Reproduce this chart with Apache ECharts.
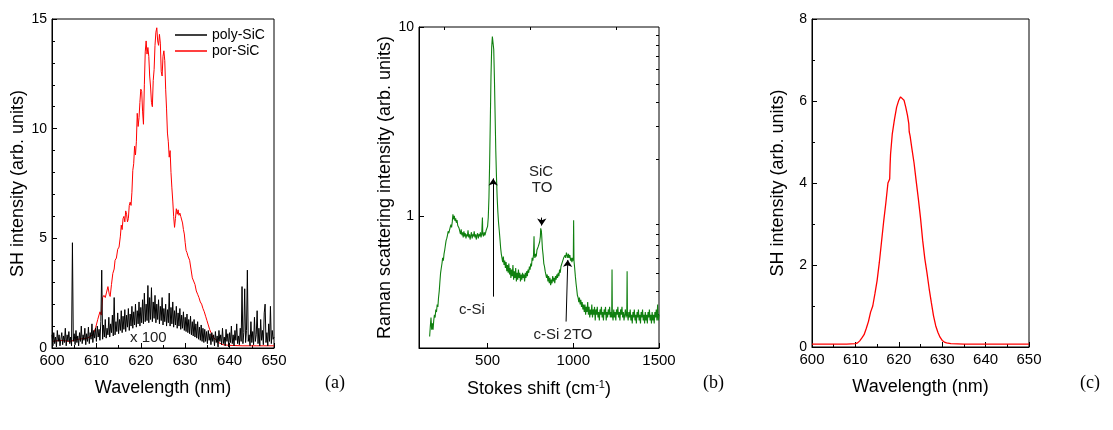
<!DOCTYPE html>
<html>
<head>
<meta charset="utf-8">
<script src="https://cdn.jsdelivr.net/npm/echarts@6/dist/echarts.min.js"></script>
<style>html,body{margin:0;padding:0;background:#fff}#c{width:1113px;height:430px}</style>
</head>
<body>
<div id="c"></div>
<script>
// ---------- Panel (a) ----------
const wlTicks = [600, 610, 620, 630, 640, 650];
const polyStart = 600, polyStep = 0.2;
const polySiC = [
0.6,0.1,0.7,0.2,0.5,0.05,0.8,0.3,0.6,0.1,
0.4,0.7,0.15,0.55,0.25,0.9,0.1,0.6,0.3,0.75,
0.2,0.5,0.1,4.8,0.3,0.65,0.15,0.8,0.25,0.55,
0.1,0.7,0.3,1.0,0.2,0.6,0.35,0.9,0.15,0.65,
0.3,0.95,0.2,0.7,0.4,1.1,0.25,0.8,0.45,0.9,
0.3,1.0,0.5,0.85,0.35,1.2,3.55,0.4,1.05,0.5,
1.3,0.45,0.9,0.6,1.4,0.5,1.1,0.7,1.5,0.55,
2.3,0.6,1.2,0.75,1.6,0.65,1.3,0.8,1.7,0.7,
1.45,0.85,1.75,0.75,1.5,0.95,1.8,0.8,1.55,1.0,
1.9,0.9,1.65,1.05,2.0,0.95,1.7,1.1,2.1,1.0,
1.85,1.15,2.2,1.1,2.5,1.2,2.0,1.25,2.85,1.15,
2.3,1.3,2.75,1.2,2.1,1.35,2.4,1.15,2.0,1.3,
2.2,1.1,1.9,1.25,2.3,1.05,1.8,1.2,2.0,1.0,
1.75,1.15,2.5,1.0,1.85,1.1,2.1,0.95,1.7,1.05,
1.9,0.9,1.6,1.0,1.8,0.85,1.5,0.9,1.65,0.8,
1.4,0.75,1.55,0.7,1.3,0.65,1.45,0.6,1.2,0.55,
1.3,0.5,1.1,0.45,1.2,0.4,0.95,0.35,1.05,0.3,
0.9,0.25,0.85,0.3,0.75,0.2,0.8,0.35,0.65,0.15,
0.7,0.3,0.6,0.1,0.75,0.25,0.55,0.05,0.8,0.3,
0.6,0.15,0.9,0.2,0.5,0.1,0.85,0.3,0.65,0.05,
0.7,0.25,1.0,0.2,0.6,0.1,0.8,0.35,1.1,0.2,
0.55,0.15,0.9,0.3,2.8,0.2,0.7,2.7,0.25,0.8,
3.55,0.3,0.6,0.1,1.2,0.25,0.75,0.15,1.4,0.3,
0.6,1.7,0.2,0.9,0.1,1.3,0.35,0.8,0.15,1.6,
2.0,0.25,0.7,0.1,1.1,0.3,1.9,0.2,0.8,0.4,
0.5
];
const porSiC = [
[600,0.3],[602,0.35],[604,0.3],[606,0.4],[608,0.45],[608.8,0.55],[609.3,0.65],[609.8,0.9],[610.3,1.3],[610.8,1.65],[611.1,1.5],[611.4,2.3],[611.7,2.4],[612.0,2.3],[612.3,2.55],[612.6,2.8],[612.9,2.45],[613.1,2.35],[613.4,2.9],[613.7,3.4],[614.0,3.6],[614.2,4.0],[614.5,4.1],[614.8,4.5],[615.1,4.6],[615.4,5.1],[615.6,5.6],[615.8,5.4],[616.0,5.9],[616.2,6.0],[616.4,5.75],[616.6,6.25],[616.8,6.1],[617.0,5.75],[617.2,5.9],[617.4,6.5],[617.6,6.65],[617.8,6.5],[618.0,7.1],[618.2,8.1],[618.4,8.4],[618.6,9.2],[618.8,8.8],[619.0,9.4],[619.2,10.7],[619.4,10.1],[619.6,10.5],[619.8,11.2],[620.0,11.8],[620.2,11.7],[620.4,10.8],[620.6,10.2],[620.8,12.0],[621.0,13.5],[621.2,14.0],[621.4,13.4],[621.6,13.7],[621.8,13.3],[622.0,12.4],[622.2,11.9],[622.4,11.2],[622.6,11.0],[622.8,12.2],[623.0,12.7],[623.2,13.8],[623.4,14.4],[623.6,14.6],[623.8,14.0],[624.0,13.8],[624.2,14.3],[624.4,13.9],[624.6,12.6],[624.8,12.4],[625.0,13.3],[625.2,13.55],[625.4,13.1],[625.6,11.8],[625.8,10.9],[626.0,9.8],[626.2,9.4],[626.4,8.7],[626.6,9.0],[626.8,8.0],[627.0,7.3],[627.2,6.7],[627.4,6.0],[627.6,5.5],[627.8,5.9],[628.0,6.35],[628.2,6.1],[628.4,6.3],[628.6,6.05],[628.8,6.15],[629.0,6.0],[629.2,6.05],[629.4,5.7],[629.6,5.4],[629.8,5.2],[630.0,4.8],[630.2,4.45],[630.4,4.35],[630.6,4.2],[630.8,4.15],[631.0,4.0],[631.3,3.6],[631.6,3.2],[631.9,3.15],[632.2,2.9],[632.5,2.6],[632.8,2.45],[633.1,2.3],[633.4,2.1],[633.7,2.0],[634.0,1.8],[634.3,1.65],[634.6,1.45],[634.9,1.25],[635.2,1.05],[635.5,0.85],[635.8,0.7],[636.2,0.5],[636.8,0.4],[637.5,0.25],[638.5,0.15],[640,0.12],[643,0.1],[646,0.1],[650,0.1]
];
// ---------- Panel (b) ----------
const ramanMajorX = [500, 1000, 1500];
const ramanMinorX = [250, 750, 1250];
const ramanMajorY = [1, 10];
const ramanMinorY = [0.3,0.4,0.5,0.6,0.7,0.8,0.9,2,3,4,5,6,7,8,9];
const raman = [
[162,0.23],[166,0.26],[170,0.29],[174,0.25],[178,0.27],[182,0.25],[186,0.28],[190,0.3],[194,0.29],[198,0.32],[202,0.31],[206,0.34],[210,0.33],[214,0.37],[218,0.4],[222,0.45],[226,0.5],[230,0.53],[234,0.56],[238,0.6],[242,0.58],[246,0.63],[250,0.66],[254,0.7],[258,0.74],[262,0.76],[266,0.79],[270,0.83],[274,0.81],[278,0.84],[282,0.86],[286,0.9],[290,0.87],[294,0.93],[298,1.02],[302,0.96],[306,1.0],[310,0.94],[314,0.97],[318,0.92],[322,0.95],[326,0.89],[330,0.9],[334,0.86],
[338,0.84],[342,0.8],[346,0.85],[350,0.79],[354,0.82],[358,0.77],[362,0.83],[366,0.78],[370,0.81],[374,0.76],[378,0.8],[382,0.78],[386,0.84],[390,0.77],[394,0.8],[398,0.75],[402,0.79],[406,0.82],[410,0.76],[414,0.8],[418,0.78],[422,0.83],[426,0.77],[430,0.8],[434,0.75],[438,0.79],[442,0.81],[446,0.76],[450,0.8],[454,0.78],[458,0.82],[462,0.77],[466,0.81],[470,0.98],[472,0.8],[476,0.78],[480,0.82],[484,0.79],[488,0.81],[492,0.84],[496,0.85],[500,0.88],[504,0.98],[508,1.25],[512,1.9],[516,3.2],[520,5.5],[524,7.8],[528,8.9],[532,8.8],[536,7.6],[540,5.3],[544,3.4],[548,2.2],[552,1.6],[556,1.25],[560,1.05],[564,0.92],[568,0.84],[572,0.76],[576,0.68],[580,0.63],[584,0.6],
[588,0.57],[592,0.61],[596,0.55],[600,0.58],[604,0.53],[608,0.57],[612,0.51],[616,0.55],[620,0.5],[624,0.56],[628,0.49],[632,0.53],[636,0.47],[640,0.52],[644,0.48],[648,0.55],[652,0.46],[656,0.51],[660,0.47],[664,0.53],[668,0.45],[672,0.5],[676,0.46],[680,0.52],[684,0.47],[688,0.5],[692,0.45],[696,0.49],[700,0.46],[704,0.5],[708,0.47],[712,0.49],[716,0.45],[720,0.5],[724,0.47],[728,0.51],[732,0.48],[736,0.52],[740,0.5],[744,0.54],[748,0.52],[752,0.56],[756,0.54],[760,0.6],[764,0.58],[768,0.62],[771,0.78],[773,0.63],[776,0.6],[780,0.63],[784,0.61],[788,0.66],[792,0.65],[796,0.69],[800,0.68],[804,0.73],[808,0.78],[810,0.86],[812,0.88],[814,0.83],[816,0.78],[818,0.72],[820,0.67],[824,0.62],[828,0.56],[832,0.54],[836,0.51],[840,0.5],[844,0.47],[848,0.49],[852,0.45],[856,0.48],[860,0.44],[864,0.47],[868,0.43],[872,0.46],[876,0.44],[880,0.48],[884,0.45],[888,0.47],[892,0.44],[896,0.48],[900,0.46],[904,0.49],[908,0.47],[912,0.5],[916,0.48],[920,0.52],[924,0.5],[928,0.54],[932,0.53],[936,0.57],[940,0.56],[944,0.6],[948,0.59],[952,0.62],[956,0.6],[960,0.64],[964,0.62],[968,0.6],[972,0.63],[976,0.6],[980,0.62],[984,0.58],[988,0.6],[992,0.57],[996,0.6],[1000,0.58],[1002,0.95],[1004,0.58],[1008,0.53],[1012,0.48],[1016,0.44],[1020,0.41],[1024,0.38],[1028,0.37],[1032,0.35],[1036,0.37],[1040,0.34],
[1044,0.36],[1048,0.33],[1052,0.35],[1056,0.32],[1060,0.34],[1064,0.31],[1068,0.34],[1072,0.3],[1076,0.33],[1080,0.31],[1084,0.35],[1088,0.3],[1092,0.33],[1096,0.29],[1100,0.32],[1104,0.3],[1108,0.34],[1112,0.29],[1116,0.32],[1120,0.3],[1124,0.33],[1128,0.28],[1132,0.32],[1136,0.3],[1140,0.33],[1144,0.29],[1148,0.31],[1152,0.28],[1156,0.32],[1160,0.3],[1164,0.33],[1168,0.29],[1172,0.31],[1176,0.28],[1180,0.32],[1184,0.3],[1188,0.33],[1192,0.28],[1196,0.31],[1200,0.29],[1204,0.32],[1208,0.3],[1212,0.33],[1216,0.29],[1220,0.31],[1224,0.29],[1226,0.52],[1228,0.3],[1232,0.28],[1236,0.32],[1240,0.29],[1244,0.31],[1248,0.28],[1252,0.32],[1256,0.3],[1260,0.33],[1264,0.29],[1268,0.31],[1272,0.28],[1276,0.32],[1280,0.3],[1284,0.33],[1288,0.29],[1292,0.31],[1296,0.28],[1300,0.3],[1304,0.32],[1308,0.29],[1312,0.31],[1314,0.51],[1316,0.3],[1320,0.28],[1324,0.31],[1328,0.29],[1332,0.32],[1336,0.28],[1340,0.3],[1344,0.27],[1348,0.31],[1352,0.29],[1356,0.32],[1360,0.28],[1364,0.3],[1368,0.27],[1372,0.31],[1376,0.29],[1380,0.32],[1384,0.28],[1388,0.3],[1392,0.27],[1396,0.31],[1400,0.29],[1404,0.32],[1408,0.28],[1412,0.3],[1416,0.27],[1420,0.31],[1424,0.28],[1428,0.3],[1432,0.27],[1436,0.31],[1440,0.29],[1444,0.32],[1448,0.28],[1452,0.3],[1456,0.27],[1460,0.31],[1464,0.28],[1468,0.3],[1472,0.27],[1476,0.31],[1480,0.29],[1484,0.32],[1488,0.28],[1492,0.34],[1496,0.28],[1500,0.3]
];
const ramanArrows = [
  {from:[533,0.374], to:[533,1.58]},
  {from:[816,0.98], to:[816,0.89]},
  {from:[958,0.276], to:[968,0.585]}
];
const ramanNotes = [
  {text:'c-Si', at:[409,0.318]},
  {text:'SiC', at:[812,1.71]},
  {text:'TO', at:[818,1.41]},
  {text:'c-Si 2TO', at:[940,0.235]}
];
// ---------- Panel (c) ----------
const shgC = [
[600,0.07],[605,0.07],[608,0.07],[610,0.08],[610.5,0.1],[611,0.15],[611.5,0.22],[612,0.3],[612.5,0.45],[613,0.62],[613.5,0.85],[614,1.0],[614.5,1.3],[615,1.62],[615.5,2.05],[616,2.55],[616.5,3.05],[617,3.5],[617.5,4.0],[617.9,4.1],[618,4.45],[618.1,4.7],[618.5,5.2],[619,5.55],[619.5,5.85],[620,6.02],[620.4,6.1],[620.8,6.1],[621.2,6.02],[621.6,5.85],[622,5.65],[622.3,5.45],[622.4,5.25],[622.6,5.15],[623,4.85],[623.5,4.5],[624,4.05],[624.5,3.62],[625,3.15],[625.5,2.6],[626,2.15],[626.5,1.8],[627,1.42],[627.5,1.08],[628,0.76],[628.5,0.52],[629,0.36],[629.5,0.24],[630,0.16],[630.5,0.12],[631,0.1],[632,0.08],[635,0.07],[640,0.07],[645,0.07],[650,0.07]
];

const FONT = 'Liberation Sans, Arial, sans-serif';
const AX = '#000';
const plain = v => String(v);
const polyData = polySiC.map((v, i) => [polyStart + i * polyStep, v]);

function baseAxis(extra) {
  return Object.assign({
    axisLine: {show: true, lineStyle: {color: AX, width: 1}},
    axisTick: {show: true, inside: true, length: 5, lineStyle: {color: AX}},
    minorTick: {show: false},
    splitLine: {show: false},
    axisLabel: {color: '#000', fontFamily: FONT, fontSize: 14, margin: 5, formatter: plain},
    nameTextStyle: {color: '#000', fontFamily: FONT, fontSize: 18},
    nameLocation: 'middle'
  }, extra);
}

const chart = echarts.init(document.getElementById('c'), null, {renderer: 'canvas'});
chart.setOption({
  animation: false,
  backgroundColor: '#fff',
  grid: [
    {left: 52, right: 839, top: 19, bottom: 82, show: true, borderColor: AX, borderWidth: 1},
    {left: 419, right: 454, top: 27, bottom: 82, show: true, borderColor: AX, borderWidth: 1},
    {left: 812, right: 84, top: 19, bottom: 83, show: true, borderColor: AX, borderWidth: 1}
  ],
  xAxis: [
    baseAxis({gridIndex: 0, type: 'value', min: 600, max: 650, interval: 10,
      minorTick: {show: true, splitNumber: 2, length: 3, lineStyle: {color: AX}},
      axisLabel: {color: '#000', fontFamily: FONT, fontSize: 15, margin: 5, formatter: plain},
      name: 'Wavelength (nm)', nameGap: 31}),
    baseAxis({gridIndex: 1, type: 'value', min: 100, max: 1500,
      axisLabel: {color: '#000', fontFamily: FONT, fontSize: 15, margin: 5, customValues: ramanMajorX, formatter: plain},
      axisTick: {show: true, inside: true, length: 5, lineStyle: {color: AX}, customValues: ramanMajorX},
      name: 'Stokes shift (cm{sup|-1})', nameGap: 31,
      nameTextStyle: {color: '#000', fontFamily: FONT, fontSize: 18,
        rich: {sup: {fontSize: 11, verticalAlign: 'top', padding: [0, 0, 10, 0], color: '#000', fontFamily: FONT}}}}),
    baseAxis({gridIndex: 1, type: 'value', min: 100, max: 1500,
      axisLine: {show: false},
      axisLabel: {show: false},
      axisTick: {show: true, inside: true, length: 3, lineStyle: {color: AX}, customValues: ramanMinorX}}),
    baseAxis({gridIndex: 2, type: 'value', min: 600, max: 650, interval: 10,
      minorTick: {show: true, splitNumber: 2, length: 3, lineStyle: {color: AX}},
      axisLabel: {color: '#000', fontFamily: FONT, fontSize: 15, margin: 5, formatter: plain},
      name: 'Wavelength (nm)', nameGap: 31})
  ],
  yAxis: [
    baseAxis({gridIndex: 0, type: 'value', min: 0, max: 15, interval: 5,
      minorTick: {show: true, splitNumber: 5, length: 3, lineStyle: {color: AX}},
      name: 'SH intensity (arb. units)', nameGap: 25}),
    baseAxis({gridIndex: 1, type: 'log', logBase: 10, min: 0.2, max: 10,
      axisLabel: {color: '#000', fontFamily: FONT, fontSize: 14, margin: 5, customValues: ramanMajorY, formatter: plain},
      axisTick: {show: true, inside: true, length: 5, lineStyle: {color: AX}, customValues: ramanMajorY},
      name: 'Raman scattering intensity (arb. units)', nameGap: 19}),
    baseAxis({gridIndex: 1, type: 'log', logBase: 10, min: 0.2, max: 10,
      axisLine: {show: false},
      axisLabel: {show: false},
      axisTick: {show: true, inside: true, length: 3, lineStyle: {color: AX}, customValues: ramanMinorY}}),
    baseAxis({gridIndex: 2, type: 'value', min: 0, max: 8, interval: 2,
      minorTick: {show: true, splitNumber: 2, length: 3, lineStyle: {color: AX}},
      name: 'SH intensity (arb. units)', nameGap: 25})
  ],
  legend: {
    orient: 'vertical', left: 170, top: 23, itemGap: 2, itemWidth: 32, itemHeight: 1.5,
    icon: 'rect', data: ['poly-SiC', 'por-SiC'],
    textStyle: {color: '#000', fontFamily: FONT, fontSize: 14}
  },
  series: [
    {name: 'por-SiC', type: 'line', xAxisIndex: 0, yAxisIndex: 0, data: porSiC,
      showSymbol: false, symbol: 'none', lineStyle: {color: '#ff0000', width: 1}, itemStyle: {color: '#ff0000'}},
    {name: 'poly-SiC', type: 'line', xAxisIndex: 0, yAxisIndex: 0, data: polyData,
      showSymbol: false, symbol: 'none', lineStyle: {color: '#000', width: 1}, itemStyle: {color: '#000'},
      markPoint: {silent: true, symbol: 'circle', symbolSize: 0,
        data: [{coord: [621.7, 0.45], value: 'x 100'}],
        label: {show: true, formatter: 'x 100', color: '#222', fontFamily: FONT, fontSize: 15}}},
    {name: 'Raman', type: 'line', xAxisIndex: 1, yAxisIndex: 1, data: raman,
      showSymbol: false, symbol: 'none', lineStyle: {color: '#108010', width: 1.1}, itemStyle: {color: '#108010'},
      markLine: {silent: true, symbol: ['none', 'arrow'], symbolSize: 8,
        lineStyle: {color: '#000', width: 1, type: 'solid'},
        itemStyle: {color: '#000'},
        label: {show: false},
        data: ramanArrows.map(a => [{coord: a.from, symbol: 'none'}, {coord: a.to, symbol: 'arrow', symbolSize: 7}])},
      markPoint: {silent: true, symbol: 'circle', symbolSize: 0,
        data: ramanNotes.map(n => ({coord: n.at, value: n.text})),
        label: {show: true, formatter: p => p.value, color: '#222', fontFamily: FONT, fontSize: 15}}},
    {name: 'SHG (c)', type: 'line', xAxisIndex: 3, yAxisIndex: 3, data: shgC,
      showSymbol: false, symbol: 'none', lineStyle: {color: '#ff0000', width: 1.3}, itemStyle: {color: '#ff0000'}}
  ],
  graphic: [
    {type: 'text', left: 325, top: 374, style: {text: '(a)', fill: '#000', font: '18px "Liberation Serif", "Times New Roman", serif'}},
    {type: 'text', left: 703, top: 374, style: {text: '(b)', fill: '#000', font: '18px "Liberation Serif", "Times New Roman", serif'}},
    {type: 'text', left: 1080, top: 374, style: {text: '(c)', fill: '#000', font: '18px "Liberation Serif", "Times New Roman", serif'}}
  ]
});
</script>
</body>
</html>
